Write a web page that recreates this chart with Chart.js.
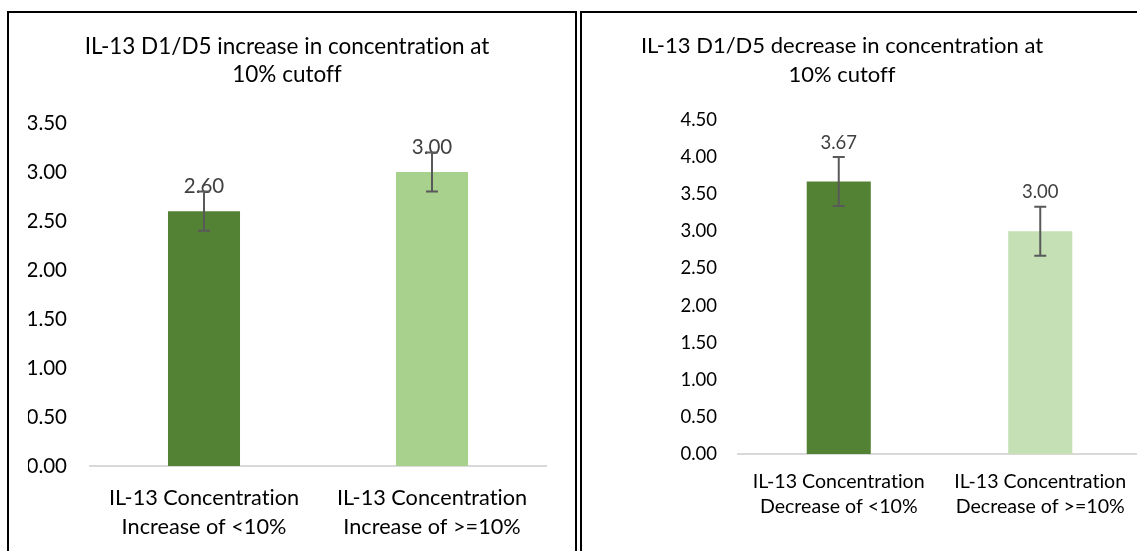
<!DOCTYPE html>
<html>
<head>
<meta charset="utf-8">
<script src="https://cdn.jsdelivr.net/npm/chart.js@4/dist/chart.umd.min.js"></script>
<style>
html,body{margin:0;padding:0;width:1137px;height:551px;overflow:hidden;background:#fff;}
.panel{position:absolute;border:2px solid #000;box-sizing:border-box;}
#p1{left:7px;top:11px;width:570px;height:570px;}
#p2{left:580px;top:11px;width:600px;height:570px;}
canvas{position:absolute;}
#c1{left:9px;top:13px;}
#c2{left:539px;top:13px;}
</style>
</head>
<body>
<div class="panel" id="p1"></div>
<div class="panel" id="p2"></div>
<canvas id="c1" width="556" height="538"></canvas>
<canvas id="c2" width="606" height="538"></canvas>
<script>
// ---- data ----
const leftTitle = ['IL-13 D1/D5 increase in concentration at', '10% cutoff'];
const leftCategories = [['IL-13 Concentration', 'Increase of <10%'], ['IL-13 Concentration', 'Increase of >=10%']];
const leftValues = [2.60, 3.00];
const leftErrors = [0.20, 0.20];
const leftAxis = {min: 0, max: 3.5, step: 0.5};

const rightTitle = ['IL-13 D1/D5 decrease in concentration at', '10% cutoff'];
const rightCategories = [['IL-13 Concentration', 'Decrease of <10%'], ['IL-13 Concentration', 'Decrease of >=10%']];
const rightValues = [3.67, 3.00];
const rightErrors = [0.33, 0.33];
const rightAxis = {min: 0, max: 4.5, step: 0.5};

// ---- plugin: no ligatures (plain text rendering) ----
const plainTextPlugin = {
  id: 'plainText',
  beforeDraw(chart) {
    const ctx = chart.ctx;
    try { ctx.textRendering = 'optimizeSpeed'; } catch (e) {}
    try { ctx.fontVariantLigatures = 'none'; } catch (e) {}
  }
};

// ---- plugin: data labels + error bars ----
const errLabelPlugin = {
  id: 'errLabels',
  afterDatasetsDraw(chart, args, o) {
    const ctx = chart.ctx, ys = chart.scales.y;
    const ds = chart.data.datasets[0];
    const meta = chart.getDatasetMeta(0);
    meta.data.forEach((bar, i) => {
      const v = ds.data[i], e = o.errors[i];
      ctx.save();
      ctx.fillStyle = o.labelColor;
      ctx.font = o.font;
      ctx.textAlign = 'center';
      ctx.textBaseline = 'middle';
      ctx.fillText(v.toFixed(2), bar.x, ys.getPixelForValue(v) - o.labelOffset);
      const yt = ys.getPixelForValue(v + e), yb = ys.getPixelForValue(v - e);
      ctx.strokeStyle = o.color;
      ctx.lineWidth = o.width;
      ctx.beginPath();
      ctx.moveTo(bar.x, yt); ctx.lineTo(bar.x, yb);
      ctx.moveTo(bar.x - o.cap, yt); ctx.lineTo(bar.x + o.cap, yt);
      ctx.moveTo(bar.x - o.cap, yb); ctx.lineTo(bar.x + o.cap, yb);
      ctx.stroke();
      ctx.restore();
    });
  }
};

function makeChart(id, cfg) {
  return new Chart(document.getElementById(id), {
    type: 'bar',
    data: {
      labels: cfg.categories,
      datasets: [{
        data: cfg.values,
        backgroundColor: cfg.colors,
        barPercentage: cfg.barPct,
        categoryPercentage: 1
      }]
    },
    options: {
      responsive: false,
      animation: false,
      layout: {padding: {left: cfg.padLeft, right: cfg.padRight, top: 0, bottom: 0}},
      plugins: {
        legend: {display: false},
        tooltip: {enabled: false},
        title: {
          display: true,
          text: cfg.title,
          color: '#000',
          font: {family: 'Lato', size: cfg.titleSize, weight: 'normal', lineHeight: cfg.titleLH},
          padding: {top: cfg.titleTop, bottom: cfg.titleBottom}
        },
        errLabels: {
          errors: cfg.errors,
          color: '#595959',
          width: 2,
          cap: 6,
          labelColor: '#404040',
          font: cfg.labelFont,
          labelOffset: cfg.labelOffset
        }
      },
      scales: {
        x: {
          grid: {display: false, drawTicks: false},
          border: {display: true, color: '#d9d9d9', width: 2},
          ticks: {
            padding: cfg.xPad,
            color: '#000',
            font: {family: 'Lato', size: cfg.xSize, lineHeight: cfg.xLH},
            maxRotation: 0, autoSkip: false
          },
          afterFit(s) { s.height = cfg.xHeight; }
        },
        y: {
          min: cfg.axis.min,
          max: cfg.axis.max,
          grid: {display: false, drawTicks: false},
          border: {display: false},
          ticks: {
            stepSize: cfg.axis.step,
            padding: cfg.yPad,
            color: '#000',
            font: {family: 'Lato', size: cfg.ySize},
            callback: v => Number(v).toFixed(2)
          },
          afterFit(s) { s.width = cfg.yWidth; }
        }
      }
    },
    plugins: [plainTextPlugin, errLabelPlugin]
  });
}

makeChart('c1', {
  categories: leftCategories, values: leftValues, errors: leftErrors, axis: leftAxis,
  title: leftTitle, colors: ['#548235', '#A9D18E'], barPct: 0.316,
  padLeft: 19, padRight: 19, titleSize: 22.5, titleLH: 1.244, titleTop: 20, titleBottom: 34,
  labelFont: '20.5px Lato', labelOffset: 25,
  xPad: 17.5, xSize: 21.7, xLH: 1.336, xHeight: 85,
  yPad: 23, ySize: 20.5, yWidth: 62
});

makeChart('c2', {
  categories: rightCategories, values: rightValues, errors: rightErrors, axis: rightAxis,
  title: rightTitle, colors: ['#548235', '#C5E0B4'], barPct: 0.318,
  padLeft: 4, padRight: 4, titleSize: 22, titleLH: 1.318, titleTop: 18.5, titleBottom: 30.5,
  labelFont: '18.5px Lato', labelOffset: 39,
  xPad: 15.5, xSize: 19.6, xLH: 1.276, xHeight: 97,
  yPad: 21, ySize: 18.5, yWidth: 195
});
</script>
</body>
</html>
